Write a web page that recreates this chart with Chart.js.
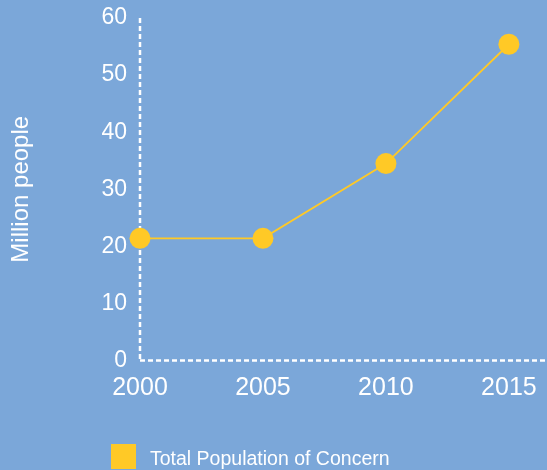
<!DOCTYPE html>
<html>
<head>
<meta charset="utf-8">
<script src="https://cdn.jsdelivr.net/npm/chart.js@4"></script>
<style>
  html, body { margin: 0; padding: 0; background: #7BA7D9; }
  #wrap { width: 547px; height: 470px; position: relative; }
</style>
</head>
<body>
<div id="wrap"><canvas id="c"></canvas></div>
<script>
const years = [2000, 2005, 2010, 2015];
const population = [21.4, 21.4, 34.5, 55.4];
const yTicks = [0, 10, 20, 30, 40, 50, 60];
const seriesLabel = 'Total Population of Concern';
const yTitle = 'Million people';

const FONT = '"Liberation Sans", Arial, Helvetica, sans-serif';
const YELLOW = '#FFC926';

const axesPlugin = {
  id: 'dashedAxes',
  beforeDatasetsDraw(chart) {
    const ctx = chart.ctx;
    const a = chart.chartArea;
    ctx.save();
    ctx.strokeStyle = '#FFFFFF';
    ctx.lineWidth = 2.5;
    ctx.setLineDash([5, 3]);
    ctx.beginPath();
    ctx.moveTo(a.left, a.top);
    ctx.lineTo(a.left, a.bottom);
    ctx.stroke();
    ctx.beginPath();
    ctx.moveTo(a.left, a.bottom);
    ctx.lineTo(chart.width, a.bottom);
    ctx.stroke();
    ctx.restore();
  }
};

const legendPlugin = {
  id: 'customLegend',
  afterDraw(chart) {
    const ctx = chart.ctx;
    const ds = chart.data.datasets[0];
    ctx.save();
    ctx.fillStyle = ds.backgroundColor;
    ctx.fillRect(111, 444, 25, 25);
    ctx.fillStyle = '#FFFFFF';
    ctx.font = '19.5px ' + FONT;
    ctx.textBaseline = 'alphabetic';
    ctx.textAlign = 'left';
    ctx.fillText(ds.label, 150, 465);
    ctx.restore();
  }
};

new Chart(document.getElementById('c'), {
  type: 'line',
  data: {
    datasets: [{
      label: seriesLabel,
      data: years.map((y, i) => ({ x: y, y: population[i] })),
      borderColor: YELLOW,
      backgroundColor: YELLOW,
      borderWidth: 1.8,
      pointRadius: 10.5,
      pointBorderWidth: 0,
      pointBackgroundColor: YELLOW,
      tension: 0,
      clip: false
    }]
  },
  options: {
    responsive: true,
    maintainAspectRatio: false,
    animation: false,
    layout: { autoPadding: false, padding: { top: 18, right: 0, left: 0, bottom: 0 } },
    plugins: { legend: { display: false }, tooltip: { enabled: false } },
    scales: {
      x: {
        type: 'linear',
        min: 2000,
        max: 2016.55,
        afterBuildTicks(scale) { scale.ticks = years.map(v => ({ value: v })); },
        afterFit(scale) {
          scale.height = 109.5;
          scale.paddingLeft = 0; scale.paddingRight = 0;
          scale.paddingTop = 0; scale.paddingBottom = 0;
        },
        grid: { display: false, drawTicks: false },
        border: { display: false },
        ticks: {
          color: '#FFFFFF',
          font: { family: FONT, size: 25 },
          padding: 13,
          maxRotation: 0,
          autoSkip: false,
          callback: v => String(v)
        }
      },
      y: {
        min: 0,
        max: 60,
        afterBuildTicks(scale) { scale.ticks = yTicks.map(v => ({ value: v })); },
        afterFit(scale) {
          scale.width = 140;
          scale.paddingLeft = 0; scale.paddingRight = 0;
          scale.paddingTop = 0; scale.paddingBottom = 0;
        },
        grid: { display: false, drawTicks: false },
        border: { display: false },
        ticks: {
          color: '#FFFFFF',
          font: { family: FONT, size: 23 },
          padding: 13,
          callback: v => String(v)
        },
        title: {
          display: true,
          text: yTitle,
          color: '#FFFFFF',
          font: { family: FONT, size: 24 },
          padding: { top: 7, bottom: 0 }
        }
      }
    }
  },
  plugins: [axesPlugin, legendPlugin]
});
</script>
</body>
</html>
